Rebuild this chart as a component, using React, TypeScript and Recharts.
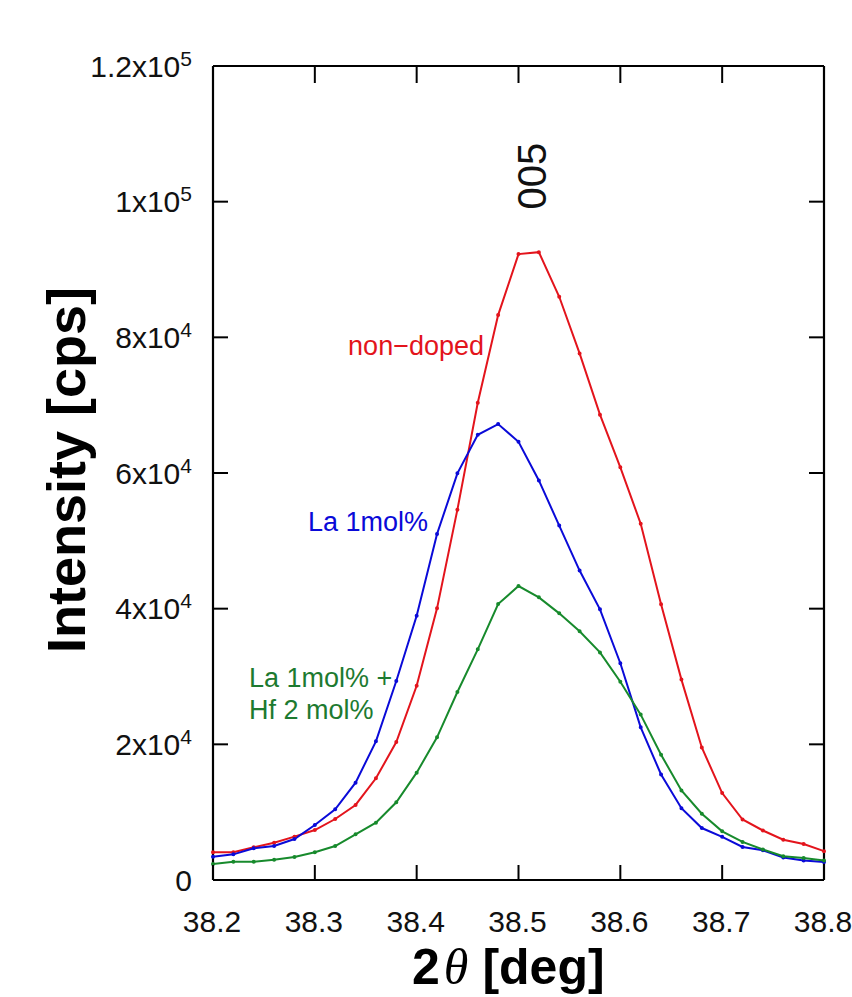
import React from "react";
import { LineChart, Line, XAxis, YAxis, ReferenceLine } from "recharts";

// 2θ positions (deg)
const THETA = [
  38.2, 38.22, 38.24, 38.26, 38.28, 38.3, 38.32, 38.34, 38.36, 38.38, 38.4,
  38.42, 38.44, 38.46, 38.48, 38.5, 38.52, 38.54, 38.56, 38.58, 38.6, 38.62,
  38.64, 38.66, 38.68, 38.7, 38.72, 38.74, 38.76, 38.78, 38.8,
];

// intensities (cps)
const NON_DOPED = [
  4080, 4100, 4820, 5500, 6390, 7370, 8990, 11060, 14990, 20340, 28640, 40050,
  54600, 70360, 83280, 92270, 92560, 85980, 77630, 68600, 60830, 52520, 40650,
  29540, 19530, 12820, 8920, 7300, 5930, 5300, 4250,
];
const LA_1MOL = [
  3430, 3780, 4670, 5010, 6040, 8100, 10420, 14340, 20440, 29330, 38960, 51000,
  59950, 65640, 67210, 64600, 58900, 52250, 45620, 39900, 31960, 22510, 15550,
  10580, 7660, 6360, 4870, 4380, 3320, 2890, 2640,
];
const LA_HF = [
  2360, 2700, 2700, 2990, 3390, 4080, 5010, 6740, 8450, 11450, 15820, 21030,
  27710, 34000, 40680, 43340, 41670, 39310, 36660, 33550, 29230, 24380, 18470,
  13190, 9770, 7180, 5620, 4500, 3510, 3260, 2890,
];

const X_TICKS = [38.2, 38.3, 38.4, 38.5, 38.6, 38.7, 38.8];
const Y_TICKS = [0, 20000, 40000, 60000, 80000, 100000, 120000];
const X_DOMAIN = [38.2, 38.8];
const Y_DOMAIN = [0, 120000];

const RED = "#e3141c";
const BLUE = "#0a0ad8";
const GREEN = "#178a2c";
const GREEN_TEXT = "#1d7a30";

const W = 852;
const H = 997;
const MARGIN = { top: 66, right: 28, bottom: 0, left: 0 };
const Y_AXIS_W = 213;
const X_AXIS_H = 117;
const LEFT = MARGIN.left + Y_AXIS_W;
const RIGHT = W - MARGIN.right;
const TOP = MARGIN.top;
const BOTTOM = H - X_AXIS_H;
const TICK_LEN = 15;

const FONT = "'Liberation Sans', Arial, sans-serif";

const data = THETA.map((t, i) => ({
  theta: t,
  nonDoped: NON_DOPED[i],
  la: LA_1MOL[i],
  laHf: LA_HF[i],
}));

// inward ticks on left and right frame + "mx10^e" labels
function YTick(props: any) {
  const { y, payload } = props;
  const v = Number(payload.value);
  let label: React.ReactNode = "0";
  if (v > 0) {
    const exp = Math.floor(Math.log10(v) + 1e-9);
    const mant = Math.round((v / Math.pow(10, exp)) * 10) / 10;
    label = (
      <>
        {`${mant}x10`}
        <tspan dy={-11} fontSize={21}>
          {exp}
        </tspan>
      </>
    );
  }
  return (
    <g>
      <line x1={LEFT} x2={LEFT + TICK_LEN} y1={y} y2={y} stroke="#000" strokeWidth={2} />
      <line x1={RIGHT} x2={RIGHT - TICK_LEN} y1={y} y2={y} stroke="#000" strokeWidth={2} />
      <text x={192} y={y + 10.5} textAnchor="end" fontSize={30} fontFamily={FONT} fill="#111">
        {label}
      </text>
    </g>
  );
}

// inward ticks on bottom and top frame
function XTick(props: any) {
  const { x, payload } = props;
  return (
    <g>
      <line x1={x} x2={x} y1={BOTTOM} y2={BOTTOM - TICK_LEN} stroke="#000" strokeWidth={2} />
      <line x1={x} x2={x} y1={TOP} y2={TOP + 17} stroke="#000" strokeWidth={2} />
      <text x={x - 1} y={931.5} textAnchor="middle" fontSize={30} fontFamily={FONT} fill="#111">
        {Number(payload.value).toFixed(1)}
      </text>
    </g>
  );
}

export default function App() {
  return (
    <div style={{ position: "absolute", left: 0, top: 0, background: "#fff" }}>
      <LineChart width={W} height={H} data={data} margin={MARGIN}>
        <XAxis
          dataKey="theta"
          type="number"
          domain={X_DOMAIN}
          ticks={X_TICKS}
          interval={0}
          height={X_AXIS_H}
          tickLine={false}
          axisLine={{ stroke: "#000", strokeWidth: 2.2 }}
          tick={XTick}
        />
        <YAxis
          type="number"
          domain={Y_DOMAIN}
          ticks={Y_TICKS}
          interval={0}
          width={Y_AXIS_W}
          tickLine={false}
          axisLine={{ stroke: "#000", strokeWidth: 2.2 }}
          tick={YTick}
        />
        {/* top and right frame */}
        <ReferenceLine y={120000} stroke="#000" strokeWidth={2.2} />
        <ReferenceLine x={38.8} stroke="#000" strokeWidth={2.2} />

        <Line
          dataKey="nonDoped"
          stroke={RED}
          strokeWidth={2}
          dot={{ r: 1, fill: RED, stroke: RED }}
          isAnimationActive={false}
        />
        <Line
          dataKey="la"
          stroke={BLUE}
          strokeWidth={2}
          dot={{ r: 1, fill: BLUE, stroke: BLUE }}
          isAnimationActive={false}
        />
        <Line
          dataKey="laHf"
          stroke={GREEN}
          strokeWidth={2}
          dot={{ r: 1, fill: GREEN, stroke: GREEN }}
          isAnimationActive={false}
        />

        {/* annotations */}
        <text x={484} y={355} textAnchor="end" fontSize={27} fontFamily={FONT} fill={RED}>
          non−doped
        </text>
        <text x={428} y={531} textAnchor="end" fontSize={27} fontFamily={FONT} fill={BLUE}>
          La 1mol%
        </text>
        <text x={249} y={687} fontSize={27} fontFamily={FONT} fill={GREEN_TEXT}>
          La 1mol% +
        </text>
        <text x={249} y={719} fontSize={27} fontFamily={FONT} fill={GREEN_TEXT}>
          Hf 2 mol%
        </text>
        <text
          x={546}
          y={176}
          transform="rotate(-90 546 176)"
          textAnchor="middle"
          fontSize={40}
          fontFamily={FONT}
          fill="#111"
        >
          005
        </text>
        <text
          x={85}
          y={470}
          transform="rotate(-90 85 470)"
          textAnchor="middle"
          fontSize={54}
          fontWeight="bold"
          fontFamily={FONT}
          fill="#000"
        >
          Intensity [cps]
        </text>
        <text x={412} y={984} fontSize={50} fontWeight="bold" fontFamily={FONT} fill="#000">
          2
          <tspan dx={4} fontStyle="italic" fontWeight="normal" fontFamily="'Liberation Serif', serif">
            θ
          </tspan>
          <tspan dx={14}>[deg]</tspan>
        </text>
      </LineChart>
    </div>
  );
}
